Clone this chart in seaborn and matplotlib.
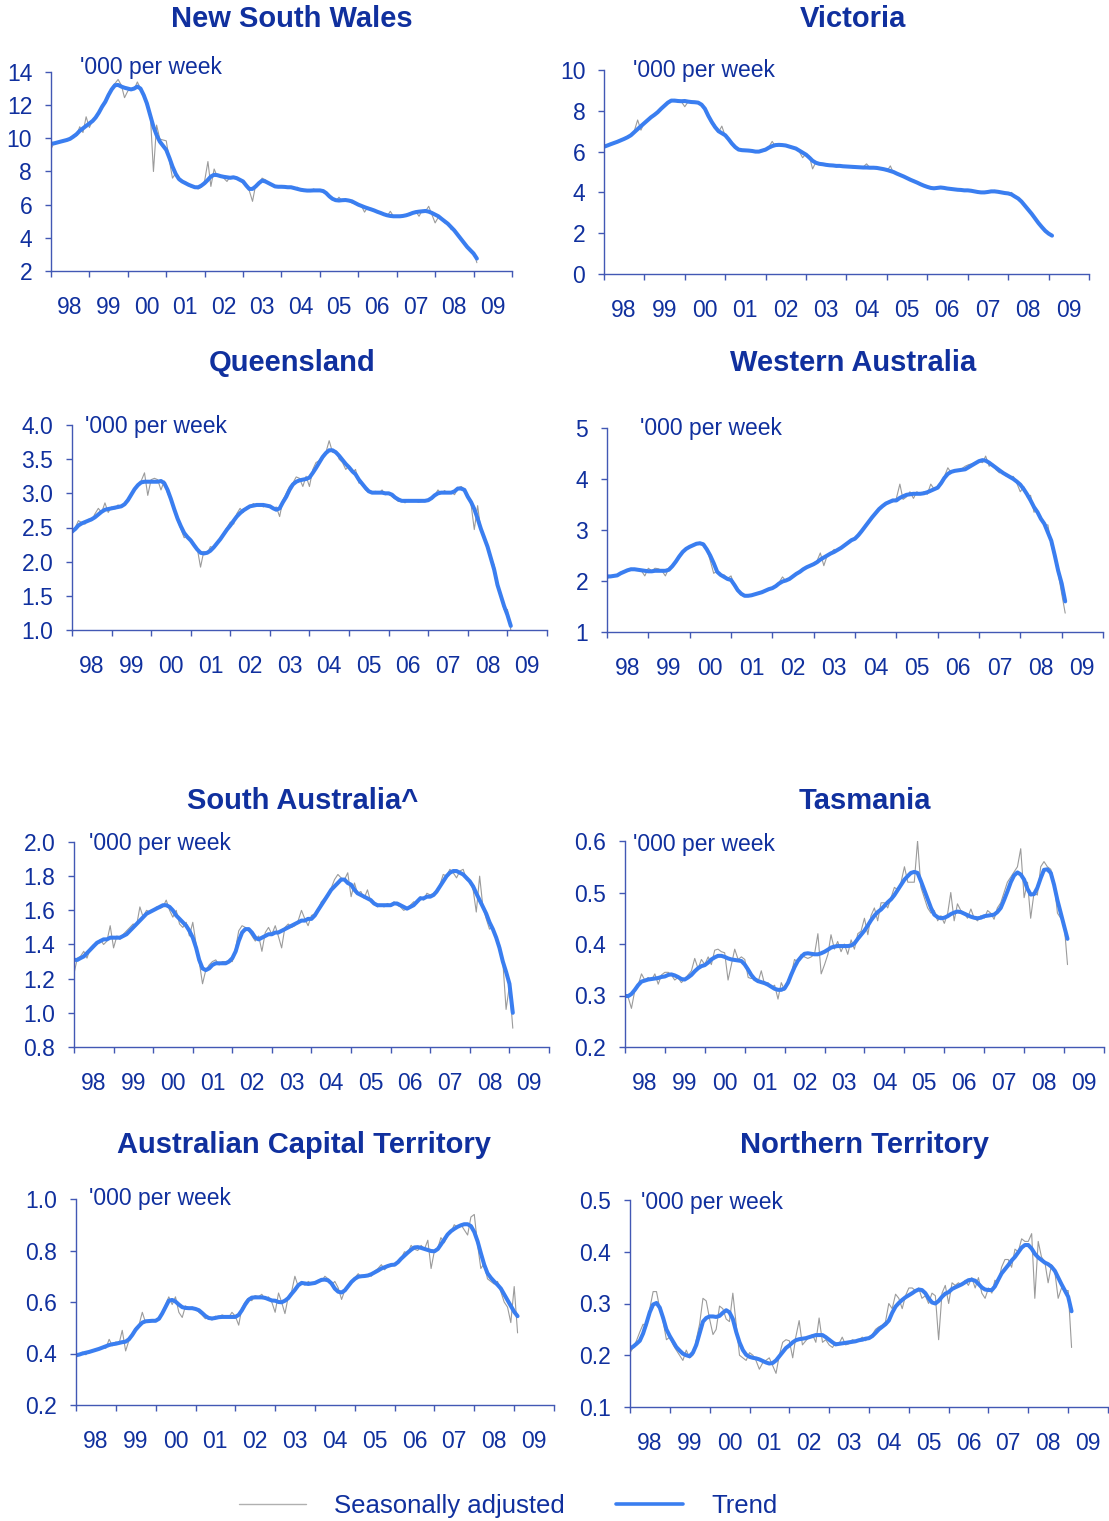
import matplotlib
matplotlib.use('Agg')
import matplotlib.pyplot as plt
import matplotlib.dates as mdates
from matplotlib.lines import Line2D
from matplotlib.ticker import FormatStrFormatter, NullFormatter
import numpy as np
import pandas as pd
import seaborn as sns

# monthly series, Jan 1998 - Feb 2009 ('000 per week)
nsw_trend = [
    9.67, 9.70, 9.75, 9.80, 9.85, 9.90, 9.97, 10.10, 10.25, 10.45, 10.60, 10.75,
    10.90, 11.05, 11.25, 11.55, 11.90, 12.20, 12.60, 12.95, 13.20, 13.22, 13.12, 13.05,
    13.00, 12.95, 13.00, 13.12, 13.00, 12.60, 12.10, 11.40, 10.70, 10.20, 9.80, 9.55,
    9.30, 8.80, 8.30, 7.85, 7.55, 7.40, 7.30, 7.20, 7.12, 7.05, 7.05, 7.15,
    7.30, 7.50, 7.70, 7.80, 7.78, 7.72, 7.68, 7.65, 7.62, 7.65, 7.60, 7.50,
    7.40, 7.15, 6.95, 6.95, 7.10, 7.30, 7.45, 7.40, 7.30, 7.20, 7.10, 7.08,
    7.08, 7.07, 7.05, 7.05, 7.00, 6.95, 6.90, 6.87, 6.85, 6.85, 6.86, 6.86,
    6.86, 6.82, 6.70, 6.50, 6.35, 6.27, 6.25, 6.27, 6.28, 6.25, 6.20, 6.10,
    6.00, 5.92, 5.85, 5.78, 5.72, 5.65, 5.57, 5.50, 5.42, 5.36, 5.32, 5.30,
    5.30, 5.30, 5.32, 5.36, 5.42, 5.50, 5.55, 5.58, 5.60, 5.62, 5.58, 5.50,
    5.40, 5.30, 5.15, 5.00, 4.85, 4.65, 4.45, 4.20, 3.95, 3.70, 3.45, 3.25,
    3.05, 2.75]
nsw_sadj = [
    9.35, 9.75, 9.70, 9.85, 9.80, 9.95, 10.00, 10.20, 10.15, 10.70, 10.35, 11.30,
    10.65, 11.10, 11.30, 11.60, 12.00, 12.25, 12.70, 13.05, 13.30, 13.55, 13.20, 12.45,
    12.85, 13.00, 12.95, 13.40, 13.00, 12.60, 11.90, 11.60, 8.00, 10.80, 9.95, 9.90,
    9.85, 8.60, 7.60, 7.90, 7.45, 7.35, 7.40, 7.15, 7.05, 7.00, 6.95, 7.05,
    7.45, 8.60, 7.10, 8.15, 7.70, 7.75, 7.60, 7.40, 7.70, 7.60, 7.65, 7.45,
    7.30, 7.20, 6.85, 6.20, 7.20, 7.20, 7.60, 7.50, 7.25, 7.15, 7.05, 7.10,
    7.05, 7.15, 7.00, 7.10, 6.95, 7.05, 6.85, 6.80, 6.90, 6.80, 6.95, 6.85,
    6.90, 6.75, 6.70, 6.45, 6.30, 6.20, 6.45, 6.20, 6.30, 6.25, 6.10, 6.05,
    5.95, 5.90, 5.55, 5.85, 5.70, 5.60, 5.55, 5.45, 5.40, 5.30, 5.60, 5.30,
    5.25, 5.35, 5.30, 5.35, 5.50, 5.45, 5.60, 5.30, 5.65, 5.60, 5.90, 5.40,
    4.90, 5.25, 5.15, 4.90, 4.90, 4.50, 4.50, 4.15, 3.90, 3.65, 3.40, 3.30,
    3.15, 2.50]

vic_trend = [
    6.24, 6.30, 6.36, 6.42, 6.48, 6.55, 6.62, 6.70, 6.80, 6.95, 7.10, 7.25,
    7.40, 7.55, 7.68, 7.80, 7.93, 8.10, 8.25, 8.40, 8.50, 8.50, 8.48, 8.47,
    8.48, 8.45, 8.43, 8.42, 8.40, 8.30, 8.10, 7.75, 7.45, 7.20, 7.00, 6.90,
    6.80, 6.60, 6.40, 6.22, 6.10, 6.07, 6.06, 6.05, 6.03, 6.00, 6.00, 6.05,
    6.10, 6.20, 6.27, 6.32, 6.33, 6.32, 6.30, 6.25, 6.20, 6.15, 6.05, 5.95,
    5.85, 5.70, 5.55, 5.45, 5.40, 5.38, 5.35, 5.33, 5.32, 5.30, 5.30, 5.28,
    5.27, 5.26, 5.25, 5.24, 5.23, 5.22, 5.22, 5.21, 5.21, 5.20, 5.17, 5.14,
    5.10, 5.05, 5.00, 4.92, 4.85, 4.78, 4.70, 4.62, 4.55, 4.48, 4.40, 4.33,
    4.27, 4.22, 4.20, 4.22, 4.24, 4.22, 4.19, 4.17, 4.15, 4.13, 4.12, 4.10,
    4.10, 4.08, 4.05, 4.02, 4.00, 4.00, 4.02, 4.05, 4.05, 4.03, 4.00, 3.97,
    3.95, 3.90, 3.80, 3.70, 3.55, 3.35, 3.15, 2.95, 2.72, 2.50, 2.30, 2.12,
    1.98, 1.88]
vic_sadj = [
    6.20, 6.32, 6.35, 6.45, 6.45, 6.60, 6.60, 6.75, 6.80, 7.00, 7.55, 7.05,
    7.45, 7.60, 7.65, 7.85, 7.90, 8.15, 8.25, 8.45, 8.55, 8.45, 8.50, 8.45,
    8.20, 8.45, 8.40, 8.45, 8.35, 8.30, 8.05, 7.70, 7.35, 7.30, 6.95, 7.25,
    6.75, 6.55, 6.45, 6.15, 6.10, 6.05, 6.10, 6.00, 6.05, 6.00, 6.05, 6.00,
    6.05, 6.25, 6.50, 6.25, 6.35, 6.30, 6.25, 6.30, 6.15, 6.20, 6.00, 5.70,
    5.90, 5.75, 5.15, 5.50, 5.40, 5.35, 5.40, 5.30, 5.35, 5.25, 5.30, 5.25,
    5.30, 5.25, 5.20, 5.25, 5.20, 5.25, 5.40, 5.20, 5.20, 5.15, 5.20, 5.10,
    5.05, 5.30, 4.95, 4.90, 4.85, 4.75, 4.70, 4.60, 4.60, 4.45, 4.40, 4.30,
    4.25, 4.20, 4.25, 4.20, 4.25, 4.20, 4.15, 4.20, 4.10, 4.15, 4.10, 4.10,
    4.10, 4.05, 4.05, 4.00, 3.95, 4.00, 4.05, 4.00, 4.10, 4.00, 4.00, 3.95,
    3.90, 4.00, 3.75, 3.70, 3.55, 3.35, 3.15, 2.95, 2.70, 2.50, 2.30, 2.05,
    1.95, 1.85]

qld_trend = [
    2.44, 2.48, 2.53, 2.56, 2.58, 2.60, 2.62, 2.65, 2.69, 2.73, 2.76, 2.77,
    2.78, 2.79, 2.80, 2.81, 2.84, 2.90, 2.98, 3.06, 3.12, 3.16, 3.17, 3.17,
    3.17, 3.17, 3.17, 3.18, 3.15, 3.05, 2.92, 2.77, 2.63, 2.52, 2.42, 2.36,
    2.31, 2.24, 2.18, 2.13, 2.12, 2.13, 2.16, 2.21, 2.27, 2.33, 2.40, 2.47,
    2.53, 2.60, 2.66, 2.71, 2.75, 2.78, 2.81, 2.82, 2.83, 2.83, 2.83, 2.82,
    2.81, 2.78, 2.76, 2.78, 2.87, 2.95, 3.05, 3.13, 3.17, 3.19, 3.20, 3.21,
    3.23, 3.30, 3.37, 3.45, 3.53, 3.59, 3.63, 3.63, 3.60, 3.55, 3.49, 3.43,
    3.38, 3.32, 3.28, 3.20, 3.14, 3.08, 3.03, 3.01, 3.01, 3.01, 3.01, 3.00,
    3.00, 2.98, 2.94, 2.91, 2.89, 2.89, 2.89, 2.89, 2.89, 2.89, 2.89, 2.89,
    2.90, 2.93, 2.97, 3.00, 3.01, 3.01, 3.01, 3.01, 3.03, 3.07, 3.07, 3.05,
    2.95, 2.87, 2.77, 2.63, 2.48, 2.35, 2.22, 2.05, 1.88, 1.66, 1.50, 1.35,
    1.22, 1.06]
qld_sadj = [
    2.40, 2.50, 2.60, 2.57, 2.55, 2.62, 2.60, 2.70, 2.78, 2.72, 2.86, 2.72,
    2.80, 2.77, 2.83, 2.80, 2.85, 2.88, 3.00, 3.05, 3.12, 3.18, 3.30, 2.97,
    3.20, 3.22, 3.20, 3.05, 3.18, 3.00, 2.90, 2.75, 2.60, 2.48, 2.35, 2.38,
    2.33, 2.22, 2.20, 1.92, 2.15, 2.12, 2.22, 2.20, 2.25, 2.35, 2.42, 2.50,
    2.58, 2.55, 2.70, 2.78, 2.72, 2.80, 2.80, 2.85, 2.82, 2.84, 2.80, 2.83,
    2.80, 2.78, 2.80, 2.66, 2.90, 3.00, 3.10, 3.15, 3.24, 3.22, 3.10, 3.25,
    3.10, 3.35, 3.45, 3.48, 3.55, 3.60, 3.77, 3.60, 3.62, 3.50, 3.45, 3.35,
    3.40, 3.30, 3.35, 3.15, 3.15, 3.05, 3.02, 3.00, 3.03, 3.00, 3.05, 2.98,
    3.00, 2.95, 2.92, 2.88, 2.90, 2.86, 2.91, 2.88, 2.90, 2.87, 2.88, 2.90,
    2.88, 2.95, 2.97, 3.05, 3.00, 3.04, 3.00, 3.02, 2.98, 3.08, 3.10, 3.06,
    2.97, 2.83, 2.47, 2.82, 2.45, 2.38, 2.20, 2.05, 1.95, 1.68, 1.50, 1.30,
    1.30, 1.00]

wa_trend = [
    2.09, 2.09, 2.10, 2.11, 2.15, 2.18, 2.21, 2.23, 2.23, 2.22, 2.21, 2.20,
    2.19, 2.19, 2.20, 2.20, 2.20, 2.20, 2.22, 2.29, 2.38, 2.48, 2.57, 2.63,
    2.67, 2.70, 2.73, 2.74, 2.72, 2.62, 2.50, 2.35, 2.18, 2.12, 2.08, 2.04,
    2.02, 1.92, 1.82, 1.75, 1.71, 1.71, 1.72, 1.74, 1.76, 1.78, 1.81, 1.84,
    1.86, 1.90, 1.95, 1.99, 2.01, 2.04, 2.09, 2.14, 2.18, 2.23, 2.27, 2.30,
    2.33, 2.37, 2.42, 2.46, 2.50, 2.54, 2.57, 2.61, 2.65, 2.70, 2.75, 2.80,
    2.83, 2.90, 2.98, 3.07, 3.16, 3.25, 3.33, 3.41, 3.47, 3.52, 3.55, 3.58,
    3.58, 3.63, 3.66, 3.69, 3.70, 3.71, 3.71, 3.71, 3.72, 3.74, 3.77, 3.80,
    3.83, 3.92, 4.02, 4.10, 4.14, 4.16, 4.17, 4.18, 4.19, 4.23, 4.27, 4.31,
    4.35, 4.37, 4.36, 4.32, 4.27, 4.22, 4.17, 4.12, 4.08, 4.04, 4.00, 3.95,
    3.89, 3.80, 3.70, 3.58, 3.45, 3.35, 3.22, 3.12, 2.95, 2.79, 2.50, 2.20,
    1.95, 1.60]
wa_sadj = [
    2.05, 2.08, 2.12, 2.10, 2.17, 2.20, 2.20, 2.25, 2.22, 2.23, 2.20, 2.10,
    2.25, 2.20, 2.25, 2.24, 2.20, 2.10, 2.25, 2.30, 2.40, 2.50, 2.55, 2.65,
    2.65, 2.72, 2.72, 2.76, 2.70, 2.62, 2.40, 2.15, 2.20, 2.10, 2.12, 2.05,
    2.10, 1.90, 1.80, 1.72, 1.70, 1.72, 1.73, 1.75, 1.75, 1.80, 1.80, 1.85,
    1.87, 1.92, 1.97, 2.08, 2.00, 2.05, 2.08, 2.15, 2.20, 2.25, 2.26, 2.30,
    2.35, 2.40, 2.55, 2.30, 2.50, 2.55, 2.62, 2.60, 2.65, 2.72, 2.75, 2.80,
    2.85, 2.92, 2.95, 3.10, 3.15, 3.25, 3.35, 3.40, 3.48, 3.50, 3.57, 3.55,
    3.62, 3.90, 3.60, 3.65, 3.75, 3.62, 3.75, 3.70, 3.75, 3.70, 3.90, 3.80,
    3.85, 3.95, 4.05, 4.22, 4.12, 4.18, 4.15, 4.20, 4.25, 4.28, 4.30, 4.33,
    4.35, 4.32, 4.45, 4.25, 4.30, 4.18, 4.12, 4.15, 4.05, 4.05, 4.05, 3.92,
    3.75, 3.85, 3.65, 3.68, 3.35, 3.38, 3.20, 3.10, 3.10, 2.70, 2.45, 2.15,
    1.75, 1.37]

sa_trend = [
    1.31, 1.31, 1.32, 1.33, 1.35, 1.37, 1.39, 1.41, 1.42, 1.43, 1.43, 1.44,
    1.44, 1.44, 1.44, 1.45, 1.46, 1.48, 1.50, 1.52, 1.54, 1.56, 1.58, 1.59,
    1.60, 1.61, 1.62, 1.63, 1.63, 1.62, 1.60, 1.57, 1.55, 1.53, 1.51, 1.48,
    1.44, 1.38, 1.31, 1.26, 1.25, 1.26, 1.28, 1.29, 1.29, 1.29, 1.29, 1.30,
    1.32, 1.36, 1.42, 1.47, 1.49, 1.49, 1.47, 1.44, 1.43, 1.44, 1.45, 1.46,
    1.46, 1.47, 1.47, 1.48, 1.49, 1.50, 1.51, 1.52, 1.53, 1.54, 1.54, 1.55,
    1.55, 1.57, 1.60, 1.63, 1.66, 1.69, 1.72, 1.74, 1.76, 1.78, 1.78, 1.76,
    1.75, 1.72, 1.70, 1.69, 1.68, 1.67, 1.66, 1.64, 1.63, 1.63, 1.63, 1.63,
    1.63, 1.64, 1.64, 1.63, 1.62, 1.61, 1.62, 1.63, 1.65, 1.67, 1.67, 1.68,
    1.68, 1.69, 1.71, 1.74, 1.77, 1.80, 1.82, 1.83, 1.83, 1.82, 1.81, 1.79,
    1.77, 1.74, 1.70, 1.66, 1.62, 1.58, 1.53, 1.49, 1.44, 1.38, 1.30, 1.24,
    1.17, 1.00]
sa_sadj = [
    1.23, 1.32, 1.33, 1.36, 1.32, 1.38, 1.40, 1.40, 1.43, 1.40, 1.42, 1.51,
    1.38, 1.45, 1.43, 1.46, 1.48, 1.50, 1.52, 1.51, 1.62, 1.56, 1.60, 1.59,
    1.60, 1.62, 1.61, 1.62, 1.66, 1.60, 1.56, 1.60, 1.52, 1.50, 1.53, 1.45,
    1.53, 1.40, 1.30, 1.17, 1.25, 1.28, 1.30, 1.31, 1.28, 1.30, 1.30, 1.30,
    1.30, 1.38, 1.48, 1.51, 1.50, 1.48, 1.45, 1.42, 1.45, 1.36, 1.47, 1.50,
    1.46, 1.51, 1.45, 1.38, 1.50, 1.52, 1.50, 1.51, 1.54, 1.60, 1.55, 1.51,
    1.57, 1.58, 1.60, 1.65, 1.67, 1.69, 1.73, 1.78, 1.81, 1.79, 1.78, 1.82,
    1.68, 1.76, 1.70, 1.71, 1.67, 1.72, 1.65, 1.64, 1.62, 1.63, 1.62, 1.64,
    1.63, 1.65, 1.63, 1.62, 1.60, 1.61, 1.63, 1.65, 1.64, 1.68, 1.66, 1.70,
    1.69, 1.70, 1.70, 1.75, 1.81, 1.80, 1.84, 1.82, 1.79, 1.83, 1.84, 1.78,
    1.77, 1.72, 1.59, 1.80, 1.62, 1.55, 1.49, 1.50, 1.44, 1.40, 1.30, 1.02,
    1.16, 0.91]

tas_trend = [
    0.299, 0.299, 0.303, 0.311, 0.320, 0.327, 0.329, 0.331, 0.332, 0.333, 0.334, 0.336,
    0.337, 0.340, 0.341, 0.339, 0.336, 0.332, 0.331, 0.335, 0.340, 0.347, 0.353, 0.357,
    0.359, 0.364, 0.370, 0.374, 0.377, 0.377, 0.375, 0.372, 0.370, 0.369, 0.368, 0.367,
    0.360, 0.350, 0.340, 0.332, 0.328, 0.326, 0.324, 0.321, 0.317, 0.313, 0.311, 0.311,
    0.314, 0.325, 0.340, 0.355, 0.367, 0.375, 0.381, 0.382, 0.381, 0.380, 0.380, 0.382,
    0.385, 0.389, 0.393, 0.395, 0.396, 0.396, 0.396, 0.396, 0.397, 0.401, 0.410, 0.418,
    0.426, 0.436, 0.446, 0.455, 0.462, 0.467, 0.474, 0.481, 0.487, 0.495, 0.505, 0.515,
    0.525, 0.532, 0.538, 0.540, 0.538, 0.522, 0.505, 0.487, 0.470, 0.457, 0.452, 0.450,
    0.451, 0.454, 0.458, 0.461, 0.463, 0.462, 0.459, 0.456, 0.453, 0.451, 0.450, 0.451,
    0.454, 0.455, 0.456, 0.457, 0.462, 0.470, 0.485, 0.502, 0.520, 0.533, 0.539, 0.535,
    0.525, 0.507, 0.496, 0.497, 0.509, 0.528, 0.544, 0.545, 0.538, 0.515, 0.485, 0.460,
    0.435, 0.410]
tas_sadj = [
    0.300, 0.295, 0.275, 0.310, 0.320, 0.342, 0.330, 0.335, 0.330, 0.342, 0.322, 0.340,
    0.345, 0.345, 0.340, 0.330, 0.335, 0.325, 0.332, 0.340, 0.348, 0.372, 0.352, 0.370,
    0.360, 0.375, 0.360, 0.388, 0.390, 0.385, 0.383, 0.330, 0.360, 0.390, 0.370, 0.375,
    0.370, 0.335, 0.333, 0.335, 0.325, 0.348, 0.322, 0.325, 0.315, 0.320, 0.293, 0.325,
    0.310, 0.330, 0.340, 0.370, 0.365, 0.380, 0.375, 0.372, 0.375, 0.380, 0.420, 0.342,
    0.360, 0.380, 0.418, 0.390, 0.405, 0.385, 0.400, 0.380, 0.408, 0.390, 0.420, 0.425,
    0.450, 0.418, 0.455, 0.470, 0.445, 0.480, 0.480, 0.470, 0.490, 0.510, 0.505, 0.520,
    0.550, 0.520, 0.520, 0.520, 0.600, 0.510, 0.490, 0.470, 0.460, 0.465, 0.445, 0.455,
    0.440, 0.460, 0.500, 0.445, 0.478, 0.465, 0.460, 0.450, 0.468, 0.450, 0.445, 0.455,
    0.450, 0.465, 0.460, 0.448, 0.470, 0.480, 0.500, 0.520, 0.530, 0.540, 0.550, 0.585,
    0.490, 0.520, 0.450, 0.500, 0.495, 0.550, 0.560, 0.550, 0.545, 0.520, 0.460, 0.450,
    0.440, 0.360]

act_trend = [
    0.393, 0.396, 0.400, 0.403, 0.406, 0.410, 0.414, 0.418, 0.423, 0.428, 0.433, 0.436,
    0.438, 0.441, 0.444, 0.446, 0.455, 0.472, 0.492, 0.507, 0.520, 0.525, 0.526, 0.527,
    0.527, 0.535, 0.555, 0.580, 0.605, 0.608, 0.602, 0.590, 0.580, 0.577, 0.576, 0.576,
    0.573, 0.568, 0.558, 0.546, 0.538, 0.536, 0.538, 0.541, 0.542, 0.542, 0.542, 0.542,
    0.542, 0.550, 0.567, 0.590, 0.608, 0.617, 0.618, 0.618, 0.618, 0.616, 0.611, 0.606,
    0.605, 0.600, 0.599, 0.605, 0.615, 0.632, 0.647, 0.665, 0.674, 0.672, 0.670, 0.672,
    0.674, 0.680, 0.686, 0.687, 0.684, 0.672, 0.652, 0.640, 0.637, 0.645, 0.662, 0.678,
    0.690, 0.698, 0.700, 0.701, 0.703, 0.708, 0.715, 0.722, 0.730, 0.735, 0.740, 0.744,
    0.745, 0.755, 0.768, 0.780, 0.792, 0.803, 0.812, 0.813, 0.810, 0.806, 0.802, 0.798,
    0.797, 0.806, 0.823, 0.843, 0.862, 0.875, 0.884, 0.892, 0.898, 0.902, 0.902, 0.895,
    0.872, 0.835, 0.790, 0.745, 0.712, 0.694, 0.680, 0.667, 0.652, 0.630, 0.607, 0.585,
    0.562, 0.545]
act_sadj = [
    0.390, 0.395, 0.405, 0.395, 0.410, 0.408, 0.418, 0.420, 0.425, 0.420, 0.455, 0.430,
    0.445, 0.440, 0.490, 0.410, 0.450, 0.470, 0.500, 0.510, 0.560, 0.520, 0.530, 0.525,
    0.530, 0.540, 0.560, 0.590, 0.620, 0.590, 0.620, 0.560, 0.540, 0.585, 0.575, 0.580,
    0.575, 0.560, 0.550, 0.535, 0.540, 0.530, 0.545, 0.540, 0.550, 0.545, 0.540, 0.560,
    0.545, 0.510, 0.575, 0.600, 0.615, 0.605, 0.625, 0.620, 0.630, 0.610, 0.620, 0.600,
    0.560, 0.635, 0.600, 0.555, 0.620, 0.640, 0.700, 0.660, 0.680, 0.665, 0.680, 0.670,
    0.675, 0.685, 0.680, 0.700, 0.690, 0.665, 0.680, 0.655, 0.610, 0.645, 0.660, 0.680,
    0.695, 0.710, 0.695, 0.700, 0.705, 0.700, 0.720, 0.730, 0.745, 0.725, 0.740, 0.740,
    0.750, 0.750, 0.770, 0.795, 0.790, 0.820, 0.805, 0.800, 0.820, 0.805, 0.840, 0.730,
    0.800, 0.810, 0.850, 0.830, 0.860, 0.870, 0.900, 0.890, 0.900, 0.880, 0.860, 0.930,
    0.940, 0.820, 0.730, 0.750, 0.690, 0.680, 0.670, 0.680, 0.640, 0.600, 0.580, 0.520,
    0.660, 0.480]

nt_trend = [
    0.213, 0.217, 0.222, 0.228, 0.242, 0.262, 0.283, 0.298, 0.301, 0.292, 0.272, 0.250,
    0.237, 0.226, 0.216, 0.209, 0.203, 0.200, 0.198, 0.205, 0.220, 0.242, 0.265, 0.272,
    0.275, 0.275, 0.274, 0.276, 0.282, 0.287, 0.283, 0.270, 0.245, 0.225, 0.210, 0.201,
    0.197, 0.195, 0.194, 0.192, 0.189, 0.186, 0.184, 0.185, 0.190, 0.198, 0.206, 0.214,
    0.219, 0.225, 0.229, 0.231, 0.232, 0.233, 0.235, 0.237, 0.239, 0.239, 0.239, 0.235,
    0.230, 0.225, 0.221, 0.222, 0.223, 0.224, 0.225, 0.226, 0.227, 0.229, 0.230, 0.232,
    0.233, 0.237, 0.243, 0.250, 0.255, 0.260, 0.267, 0.282, 0.294, 0.301, 0.307, 0.312,
    0.316, 0.320, 0.324, 0.327, 0.326, 0.320, 0.310, 0.302, 0.300, 0.305, 0.313, 0.319,
    0.322, 0.328, 0.331, 0.334, 0.337, 0.341, 0.345, 0.346, 0.344, 0.338, 0.331, 0.327,
    0.326, 0.326, 0.333, 0.346, 0.358, 0.366, 0.374, 0.383, 0.390, 0.399, 0.408, 0.413,
    0.413, 0.406, 0.396, 0.389, 0.384, 0.379, 0.376, 0.371, 0.363, 0.350, 0.337, 0.325,
    0.313, 0.285]
nt_sadj = [
    0.205, 0.215, 0.228, 0.245, 0.260, 0.255, 0.290, 0.323, 0.323, 0.290, 0.265, 0.230,
    0.235, 0.220, 0.210, 0.200, 0.190, 0.210, 0.195, 0.200, 0.230, 0.260, 0.310, 0.305,
    0.270, 0.240, 0.250, 0.295, 0.290, 0.270, 0.265, 0.320, 0.260, 0.200, 0.195, 0.190,
    0.205, 0.200, 0.190, 0.173, 0.185, 0.190, 0.195, 0.180, 0.165, 0.200, 0.225, 0.230,
    0.228, 0.195, 0.235, 0.267, 0.220, 0.228, 0.235, 0.240, 0.225, 0.272, 0.225, 0.230,
    0.220, 0.215, 0.225, 0.222, 0.235, 0.220, 0.222, 0.230, 0.228, 0.230, 0.235, 0.228,
    0.235, 0.240, 0.250, 0.255, 0.258, 0.265, 0.300, 0.290, 0.318, 0.310, 0.290, 0.315,
    0.330, 0.330, 0.325, 0.330, 0.310, 0.315, 0.300, 0.320, 0.315, 0.230, 0.320, 0.335,
    0.300, 0.340, 0.335, 0.340, 0.335, 0.345, 0.335, 0.350, 0.330, 0.350, 0.320, 0.310,
    0.330, 0.320, 0.345, 0.340, 0.370, 0.385, 0.385, 0.370, 0.405, 0.400, 0.425, 0.420,
    0.420, 0.435, 0.310, 0.420, 0.390, 0.380, 0.340, 0.375, 0.360, 0.310, 0.330, 0.325,
    0.325, 0.215]

months = pd.date_range('1998-01-01', periods=134, freq='MS')

sns.set_style('ticks')
plt.rcParams['font.family'] = ['Liberation Sans', 'DejaVu Sans']

TEXT = '#10309e'
AXIS = '#4258b4'
TREND = '#3a7ef0'
SADJ = '#9b9b9b'

W, H = 1109, 1521
fig = plt.figure(figsize=(W / 100, H / 100), dpi=100)


def px_rect(l, r, t, b):
    return [l / W, 1 - b / H, (r - l) / W, (b - t) / H]


# title, trend, sadj, axes box (l, r, t, b px), y range, format, title xy, unit text offset
panels = [
    ('New South Wales', nsw_trend, nsw_sadj, (51, 512, 72, 271), (2, 14, 2), '%d', (292, 19), (29, 4)),
    ('Victoria', vic_trend, vic_sadj, (604, 1089, 70, 274), (0, 10, 2), '%d', (853, 19), (29, -1)),
    ('Queensland', qld_trend, qld_sadj, (72, 547, 425, 630), (1.0, 4.0, 0.5), '%.1f', (292, 363), (13, -2)),
    ('Western Australia', wa_trend, wa_sadj, (607, 1103, 428, 632), (1, 5, 1), '%d', (853, 363), (33, -1)),
    ('South Australia^', sa_trend, sa_sadj, (74, 549, 842, 1047), (0.8, 2.0, 0.2), '%.1f', (303, 801), (15, -2)),
    ('Tasmania', tas_trend, tas_sadj, (625, 1104, 841, 1047), (0.2, 0.6, 0.1), '%.1f', (865, 801), (8, -4)),
    ('Australian Capital Territory', act_trend, act_sadj, (76, 554, 1199, 1405), (0.2, 1.0, 0.2), '%.1f', (304, 1145), (13, 0)),
    ('Northern Territory', nt_trend, nt_sadj, (630, 1108, 1200, 1407), (0.1, 0.5, 0.1), '%.1f', (865, 1145), (11, -3)),
]

for title, trend, sadj, box, (lo, hi, step), fmt, (tx, ty), (ux, uy) in panels:
    ax = fig.add_axes(px_rect(*box))
    df = pd.DataFrame({'month': months, 'trend': trend, 'sadj': sadj})
    sns.lineplot(data=df, x='month', y='sadj', ax=ax, color=SADJ, lw=0.8)
    sns.lineplot(data=df, x='month', y='trend', ax=ax, color=TREND, lw=2.9)

    ax.set_xlim(pd.Timestamp('1998-01-01'), pd.Timestamp('2010-01-01'))
    ax.set_ylim(lo, hi)
    ax.set_yticks(np.arange(lo, hi + step / 2, step))
    ax.yaxis.set_major_formatter(FormatStrFormatter(fmt))
    ax.xaxis.set_major_locator(mdates.YearLocator())
    ax.xaxis.set_major_formatter(NullFormatter())
    ax.xaxis.set_minor_locator(mdates.YearLocator(month=7))
    ax.xaxis.set_minor_formatter(mdates.DateFormatter('%y'))
    ax.set_xlabel('')
    ax.set_ylabel('')

    ax.tick_params(axis='x', which='major', length=4.5, width=1, color=AXIS)
    ax.tick_params(axis='x', which='minor', length=0, pad=18, labelsize=16.5, labelcolor=TEXT)
    ax.tick_params(axis='y', length=4.5, width=1, color=AXIS, pad=9, labelsize=16.5, labelcolor=TEXT)
    for side in ['top', 'right']:
        ax.spines[side].set_visible(False)
    for side in ['left', 'bottom']:
        ax.spines[side].set_color(AXIS)
        ax.spines[side].set_linewidth(1)

    ax.annotate("'000 per week", xy=(0, 1), xycoords='axes fraction',
                xytext=(ux * 0.72, uy * 0.72), textcoords='offset points',
                ha='left', va='center', fontsize=16.5, color=TEXT)
    fig.text(tx / W, 1 - ty / H, title, ha='center', va='center',
             fontsize=21, fontweight='bold', color=TEXT)

handles = [Line2D([], [], color='#b0b0b0', lw=1.0), Line2D([], [], color=TREND, lw=2.6)]
fig.legend(handles, ['Seasonally adjusted', 'Trend'], loc='center',
           bbox_to_anchor=(508 / W, 1 - 1506 / H), ncol=2, frameon=False,
           fontsize=18.5, handlelength=2.6, handletextpad=1.1, columnspacing=2.0,
           labelcolor=TEXT)

fig.savefig('out.png', dpi=100)
